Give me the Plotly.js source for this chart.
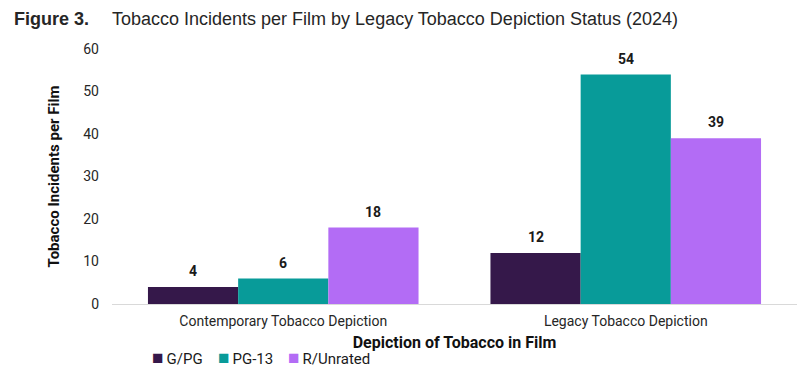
<!DOCTYPE html>
<html>
<head>
<meta charset="utf-8">
<script src="https://cdn.plot.ly/plotly-3.0.1.min.js"></script>
<style>html,body{margin:0;padding:0;background:#fff;}#chart{width:812px;height:376px;}</style>
</head>
<body>
<div id="chart"></div>
<script>
const categories = ["Contemporary Tobacco Depiction", "Legacy Tobacco Depiction"];
const seriesNames = ["G/PG", "PG-13", "R/Unrated"];
const gpg = [4, 12];
const pg13 = [6, 54];
const rUnrated = [18, 39];
const yTicks = [0, 10, 20, 30, 40, 50, 60];
const colors = ["#35184A", "#089B99", "#B36CF5"];

const seriesValues = [gpg, pg13, rUnrated];
const bargap = 0.21;

const traces = seriesValues.map((vals, j) => ({
  type: "bar",
  name: seriesNames[j],
  x: categories,
  y: vals,
  marker: {color: colors[j]},
  hoverinfo: "skip",
  showlegend: false
}));

const annotations = [];
const groupW = 1 - bargap;
seriesValues.forEach((vals, j) => {
  vals.forEach((v, i) => {
    annotations.push({
      xref: "x", yref: "y",
      x: i + (j - 1) * groupW / 3,
      y: v,
      text: "<b>" + v + "</b>",
      showarrow: false,
      yanchor: "bottom",
      yshift: 6,
      font: {family: "Roboto", size: 14, color: "#1a1a1a"}
    });
  });
});

// title
annotations.push({
  xref: "paper", yref: "paper", x: 0, y: 1, xanchor: "left", yanchor: "middle",
  xshift: -100, yshift: 30,
  text: "<b>Figure 3.</b>", showarrow: false,
  font: {family: "Liberation Sans, Arial", size: 18, color: "#262626"}
});
annotations.push({
  xref: "paper", yref: "paper", x: 0, y: 1, xanchor: "left", yanchor: "middle",
  xshift: -2, yshift: 30,
  text: "Tobacco Incidents per Film by Legacy Tobacco Depiction Status (2024)", showarrow: false,
  font: {family: "Liberation Sans, Arial", size: 18, color: "#262626"}
});

// legend (built from series names / colours)
const legendX = [152, 218, 288];
seriesNames.forEach((name, j) => {
  annotations.push({
    xref: "paper", yref: "paper", x: 0, y: 0, xanchor: "left", yanchor: "middle",
    xshift: legendX[j] - 112 - 2, yshift: -53,
    text: '<span style="color:' + colors[j] + ';font-size:19px">■</span>\u2009' + name,
    showarrow: false,
    font: {family: "Roboto", size: 15, color: "#1a1a1a"}
  });
});

const layout = {
  width: 812, height: 376,
  margin: {l: 112, r: 15, t: 49, b: 72},
  paper_bgcolor: "#fff", plot_bgcolor: "#fff",
  barmode: "group",
  bargap: bargap,
  bargroupgap: 0,
  showlegend: false,
  xaxis: {
    type: "category", automargin: false,
    showline: true, linecolor: "#d9d9d9", linewidth: 1,
    ticks: "", showgrid: false, zeroline: false,
    tickfont: {family: "Roboto", size: 14, color: "#262626"},
    ticklabelstandoff: 4,
    title: {text: "<b>Depiction of Tobacco in Film</b>", standoff: 9,
      font: {family: "Roboto", size: 16, color: "#111"}}
  },
  yaxis: {
    range: [0, 60], tickvals: yTicks, ticktext: yTicks.map(String), automargin: false,
    showline: false, showgrid: false, zeroline: false, ticks: "",
    tickfont: {family: "Roboto", size: 14, color: "#262626"},
    ticklabelstandoff: 12,
    title: {text: "<b>Tobacco Incidents per Film</b>", standoff: 20,
      font: {family: "Roboto", size: 15, color: "#111"}}
  },
  annotations: annotations
};

Plotly.newPlot("chart", traces, layout, {displayModeBar: false, staticPlot: true});
</script>
</body>
</html>
